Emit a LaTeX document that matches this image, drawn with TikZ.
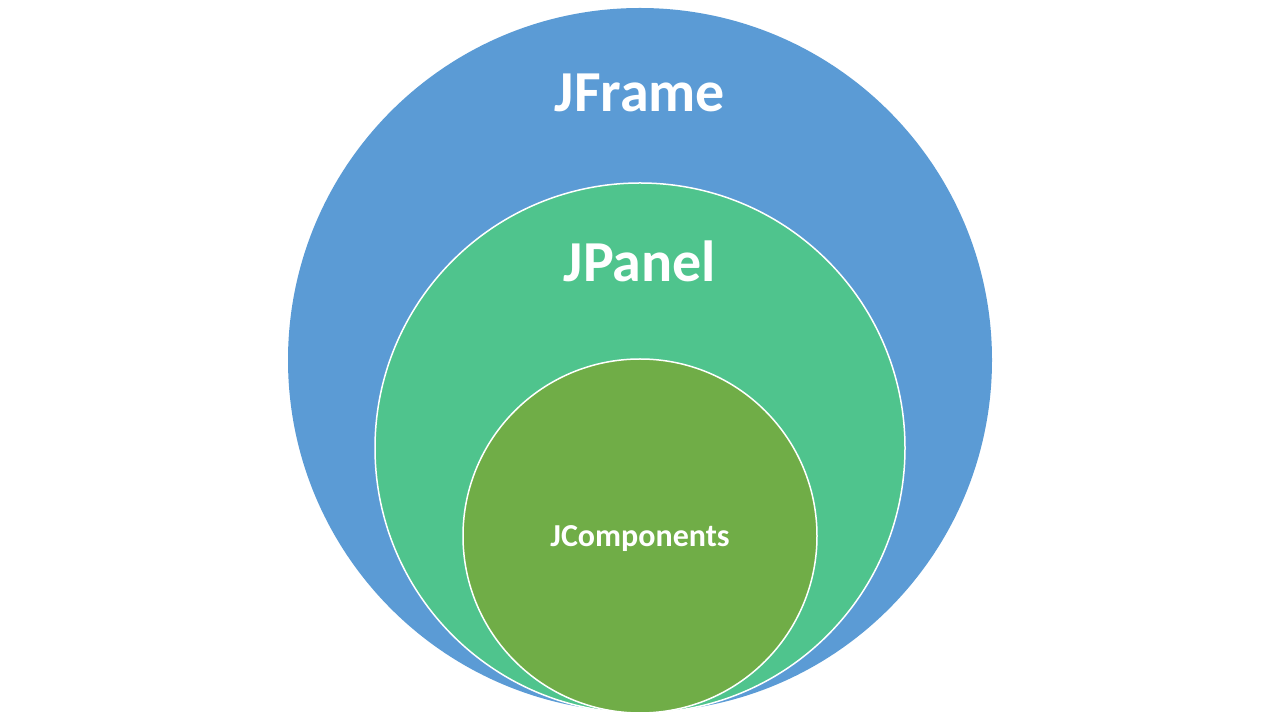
\documentclass[tikz,border=0pt]{standalone}
\usepackage{fontspec}
\setmainfont{Carlito}
\usetikzlibrary{positioning}
\definecolor{frameblue}{HTML}{5B9BD5}
\definecolor{panelgreen}{HTML}{4FC48D}
\definecolor{compgreen}{HTML}{70AD47}
\tikzset{
  layer/.style={circle, inner sep=0pt},
  label text/.style={text=white, anchor=base, font=\bfseries\fontsize{#1}{#1}\selectfont}
}
\begin{document}
\begin{tikzpicture}[x=1pt, y=1pt]
            \useasboundingbox (0,0) rectangle (1280,720);
            \node[layer, fill=frameblue, minimum size=704pt] (Frame) at (640,360) {};
            \node[layer, draw=white, line width=1.5pt, fill=panelgreen, minimum size=530pt] (Panel) at (640,272) {};
            \node[layer, draw=white, line width=1.5pt, fill=compgreen, minimum size=354pt] (Comp) at (640,184) {};

            \node[label text=58] (FrameText) at (640,608) {JFrame};
            \node[label text=58] (PanelText) at (640,438) {JPanel};
            \node[label text=32] (CompText) at (640,173) {JComponents};
        \end{tikzpicture}
\end{document}
